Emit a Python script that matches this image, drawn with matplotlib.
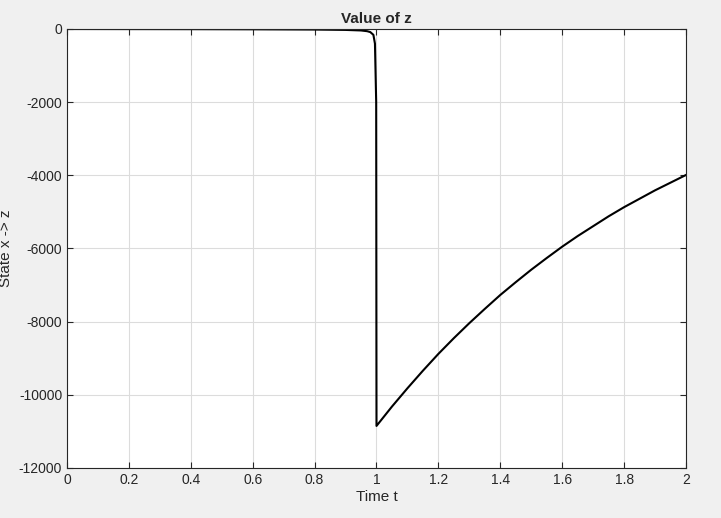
import numpy as np
import matplotlib.pyplot as plt

plt.rcParams['font.family'] = ['Liberation Sans', 'DejaVu Sans']

# values
t_before = [0.0, 0.2, 0.4, 0.6, 0.8, 0.9, 0.95, 0.97, 0.98, 0.99, 0.995, 0.999, 1.0]
z_before = [0, -2, -4, -8, -15, -25, -40, -60, -85, -160, -400, -2000, -10850]
t_after = [1.0, 1.05, 1.1, 1.15, 1.2, 1.25, 1.3, 1.35, 1.4, 1.45, 1.5,
           1.55, 1.6, 1.65, 1.7, 1.75, 1.8, 1.85, 1.9, 1.95, 2.0]
z_after = [-10850, -10320, -9820, -9340, -8880, -8450, -8040, -7650, -7270, -6920, -6580,
           -6260, -5950, -5660, -5390, -5120, -4870, -4640, -4410, -4200, -3990]

t = t_before + t_after[1:]
z = z_before + z_after[1:]

fig = plt.figure(figsize=(7.21, 5.18), dpi=100, facecolor='#f0f0f0')
ax = fig.add_axes([67/721, 1-468/518, (686-67)/721, (468-29)/518])
ax.plot(t, z, color='black', linewidth=1.5)

ax.set_xlim(0, 2)
ax.set_ylim(-12000, 0)
ax.set_xticks(np.arange(0, 2.01, 0.2))
ax.set_xticklabels(['0', '0.2', '0.4', '0.6', '0.8', '1', '1.2', '1.4', '1.6', '1.8', '2'])
ax.set_yticks(np.arange(-12000, 1, 2000))
ax.set_yticklabels([str(v) for v in range(-12000, 1, 2000)])
ax.grid(True, color='#dcdcdc', linewidth=0.8)
ax.set_axisbelow(True)
ax.tick_params(direction='in', top=True, right=True, labelsize=10, colors='#262626', length=4)
for s in ax.spines.values():
    s.set_color('#262626')
    s.set_linewidth(0.8)

ax.set_title('Value of z', fontsize=11, fontweight='bold', color='#262626', pad=4)
ax.set_xlabel('Time t', fontsize=11, color='#262626', labelpad=2)
ax.set_ylabel('State x -> z', fontsize=11, color='#262626', labelpad=4)

fig.savefig('out.png', dpi=100, facecolor=fig.get_facecolor())
